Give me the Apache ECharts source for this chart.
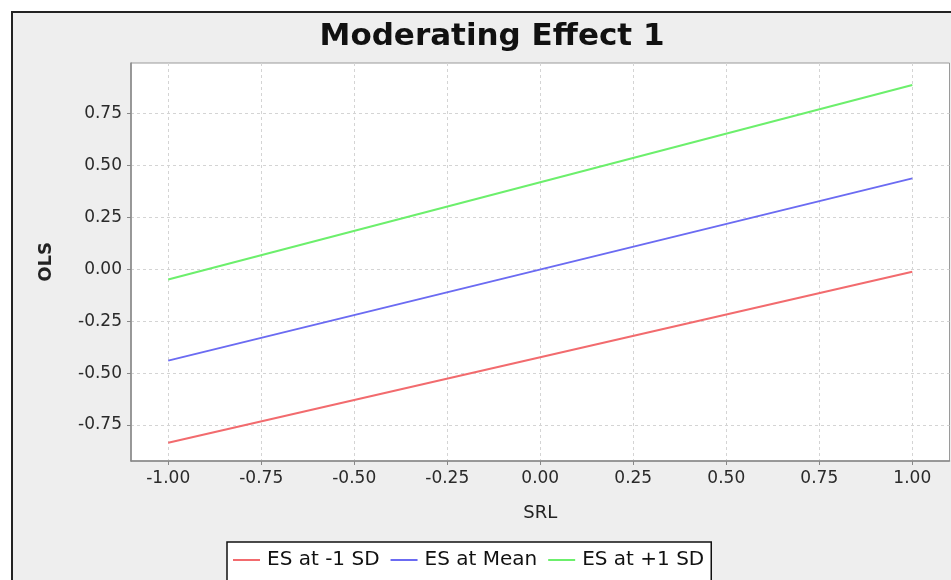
<!DOCTYPE html>
<html>
<head>
<meta charset="utf-8">
<script src="https://cdn.jsdelivr.net/npm/echarts@6/dist/echarts.min.js"></script>
<style>
html,body{margin:0;padding:0;background:#fff;}
#chart{width:951px;height:580px;}
</style>
</head>
<body>
<div id="chart"></div>
<script>
const titleText = 'Moderating Effect 1';
const xName = 'SRL';
const yName = 'OLS';
const srlValues = [-1, 1];
const esLow = [-0.835, -0.012];
const esMean = [-0.44, 0.437];
const esHigh = [-0.05, 0.886];
const seriesNames = ['ES at -1 SD', 'ES at Mean', 'ES at +1 SD'];
const xTicks = [-1, -0.75, -0.5, -0.25, 0, 0.25, 0.5, 0.75, 1];
const yTicks = [-0.75, -0.5, -0.25, 0, 0.25, 0.5, 0.75];

const colors = ['#f26b6e', '#6b6bf2', '#6cef6c'];
const font = 'DejaVu Sans';

function pairs(ys) { return srlValues.map((x, i) => [x, ys[i]]); }

const chart = echarts.init(document.getElementById('chart'));
chart.setOption({
  backgroundColor: '#eeeeee',
  animation: false,
  color: colors,
  title: {
    text: titleText,
    left: 487,
    textAlign: 'center',
    top: 16,
    textStyle: { fontFamily: font, fontSize: 31, fontWeight: 'bold', color: '#111' }
  },
  graphic: [
    { type: 'rect', shape: { x: 0, y: 0, width: 951, height: 11 }, style: { fill: '#fff' }, silent: true },
    { type: 'rect', shape: { x: 0, y: 0, width: 11, height: 580 }, style: { fill: '#fff' }, silent: true },
    { type: 'line', shape: { x1: 11, y1: 12, x2: 951, y2: 12 }, style: { stroke: '#222', lineWidth: 2 }, silent: true },
    { type: 'line', shape: { x1: 12, y1: 11, x2: 12, y2: 580 }, style: { stroke: '#222', lineWidth: 2 }, silent: true }
  ],
  legend: {
    data: seriesNames,
    left: 227,
    top: 542,
    padding: [8, 7, 40, 6],
    itemGap: 11,
    itemWidth: 27,
    itemHeight: 14,
    borderColor: '#111',
    borderWidth: 1.5,
    backgroundColor: '#fff',
    borderRadius: 0,
    icon: 'path://M0,6 L27,6 L27,8 L0,8 Z',
    textStyle: { fontFamily: font, fontSize: 20, color: '#111', padding: [0, 0, 0, 2] }
  },
  grid: {
    left: 131,
    right: 1.5,
    top: 63,
    bottom: 119,
    show: true,
    backgroundColor: '#fff',
    borderColor: '#9a9a9a',
    borderWidth: 1
  },
  xAxis: {
    type: 'value',
    min: -1.1,
    max: 1.1,
    name: xName,
    nameLocation: 'middle',
    nameGap: 43,
    nameTextStyle: { fontFamily: font, fontSize: 18, color: '#222' },
    axisLine: { show: true, onZero: false, lineStyle: { color: '#888', width: 1.5 } },
    axisTick: { show: true, length: 4, lineStyle: { color: '#888' }, customValues: xTicks },
    axisLabel: {
      customValues: xTicks,
      margin: 9,
      fontFamily: font, fontSize: 17, color: '#2a2a2a',
      formatter: v => v.toFixed(2)
    },
    splitLine: { show: true, lineStyle: { color: '#d4d4d4', type: [3, 3], width: 1 } }
  },
  yAxis: {
    type: 'value',
    min: -0.923,
    max: 0.992,
    name: yName,
    nameLocation: 'middle',
    nameGap: 76,
    nameRotate: 90,
    nameTextStyle: { fontFamily: font, fontSize: 18, fontWeight: 'bold', color: '#222' },
    axisLine: { show: true, onZero: false, lineStyle: { color: '#888', width: 1.5 } },
    axisTick: { show: true, length: 4, lineStyle: { color: '#888' }, customValues: yTicks },
    axisLabel: {
      customValues: yTicks,
      margin: 9,
      fontFamily: font, fontSize: 17, color: '#2a2a2a',
      formatter: v => v.toFixed(2)
    },
    splitLine: { show: true, lineStyle: { color: '#d4d4d4', type: [3, 3], width: 1 } }
  },
  series: [
    { name: seriesNames[0], type: 'line', data: pairs(esLow), showSymbol: false, lineStyle: { width: 2 } },
    { name: seriesNames[1], type: 'line', data: pairs(esMean), showSymbol: false, lineStyle: { width: 2 } },
    { name: seriesNames[2], type: 'line', data: pairs(esHigh), showSymbol: false, lineStyle: { width: 2 } }
  ]
});
</script>
</body>
</html>
